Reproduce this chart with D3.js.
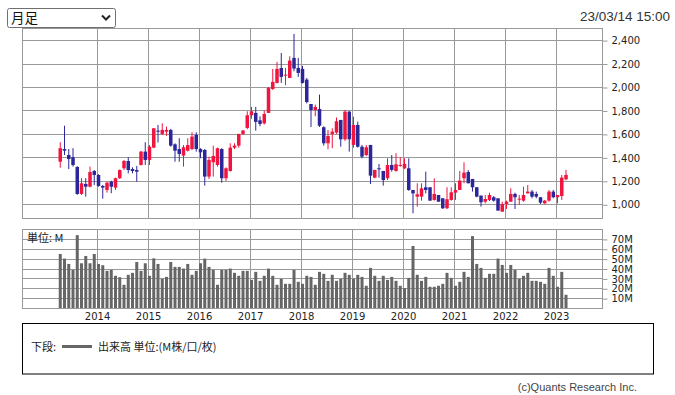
<!DOCTYPE html>
<html>
<head>
<meta charset="utf-8">
<script src="https://cdnjs.cloudflare.com/ajax/libs/d3/7.8.5/d3.min.js"></script>
<style>
body { margin: 0; background: #fff; }
svg { display: block; }
.axis path.domain { display: none; }
.axis line { stroke: #999; }
.axis text { font-family: "DejaVu Sans", sans-serif; font-size: 10px; fill: #222; }
.jp { font-family: "Noto Sans CJK JP", sans-serif; }
</style>
</head>
<body>
<svg width="675" height="395"></svg>
<script>
// monthly bars, 2013-04 .. 2023-03
var openVals = [1363,1471,1420,1401,1318,1088,1173,1150,1284,1250,1156,1122,1193,1142,1222,1307,1369,1301,1292,1335,
    1449,1378,1483,1628,1600,1619,1634,1511,1471,1415,1457,1471,1591,1471,1463,1236,1358,1335,1471,1222,
    1284,1483,1500,1600,1651,1759,1779,1716,1690,1779,1983,2035,2162,2100,2077,2248,2162,2154,2063,1855,
    1804,1813,1657,1520,1600,1611,1719,1554,1790,1506,1676,1491,1420,1506,1227,1307,1284,1222,1335,1284,
    1327,1307,1307,1122,1065,1065,1145,1145,1037,1079,1051,966,1037,1099,1122,1222,1275,1216,1145,1074,
    1022,1037,1060,1051,937,1003,1022,1088,1045,1031,1093,1108,1088,1060,1008,1031,1108,1060,1071,1213];
var highVals = [1529,1670,1471,1478,1325,1222,1222,1321,1292,1256,1165,1193,1201,1227,1298,1378,1401,1315,1327,1455,
    1529,1505,1648,1676,1690,1662,1643,1520,1563,1505,1563,1614,1614,1478,1471,1406,1500,1483,1478,1315,
    1520,1520,1600,1634,1793,1830,1830,1750,1800,2000,2154,2214,2290,2162,2262,2452,2248,2180,2077,1855,
    1850,1935,1665,1634,1648,1740,1719,1805,1795,1747,1705,1506,1506,1506,1293,1344,1284,1392,1420,1435,
    1400,1392,1392,1122,1179,1179,1278,1145,1221,1079,1051,1145,1145,1179,1284,1358,1293,1216,1145,1074,
    1079,1099,1071,1051,1022,1031,1136,1099,1079,1150,1164,1122,1108,1060,1037,1122,1122,1079,1250,1293];
var lowVals = [1312,1420,1300,1321,1080,1080,1065,1145,1165,1150,1048,1099,1094,1122,1216,1292,1264,1264,1193,1330,
    1335,1335,1478,1526,1591,1583,1491,1363,1363,1321,1449,1463,1449,1392,1159,1216,1236,1321,1184,1199,
    1278,1471,1483,1591,1640,1730,1628,1665,1680,1779,1975,2030,2035,2015,2077,2134,2086,2030,1860,1659,
    1750,1659,1500,1469,1478,1600,1491,1540,1449,1483,1483,1392,1410,1173,1222,1227,1159,1207,1278,1278,
    1320,1300,1115,923,980,1031,1093,1031,1031,1022,960,960,1031,1037,1122,1179,1179,1108,1060,980,
    1008,1028,1022,946,937,960,1022,960,994,1022,1093,1051,1051,1003,1003,1022,1051,1008,1037,1205];
var closeVals = [1478,1457,1386,1335,1088,1179,1150,1275,1250,1156,1142,1184,1150,1222,1292,1369,1292,1284,1278,1449,
    1378,1491,1648,1619,1634,1634,1500,1457,1429,1486,1505,1577,1471,1443,1236,1378,1412,1478,1222,1307,
    1483,1500,1600,1628,1759,1793,1702,1685,1770,1992,2043,2154,2086,2105,2225,2157,2120,2035,1872,1804,
    1830,1670,1520,1582,1619,1708,1554,1790,1554,1676,1491,1406,1486,1244,1293,1298,1207,1335,1293,1341,
    1335,1344,1122,1093,1085,1136,1122,1031,1088,1022,966,1043,1102,1122,1202,1270,1179,1145,1065,1017,
    1045,1079,1031,946,1003,1022,1088,1060,1048,1079,1108,1065,1065,1014,1031,1108,1060,1079,1227,1250];
// 出来高 (M)
var volumeVals = [54.7,50,44.6,38.6,73.8,45.3,52.7,45.3,54.7,44.6,43.3,37.6,38.6,32.6,31.2,23.5,33.6,35.6,46.6,37.6,
    45.3,32.6,50.3,44.6,29.5,31.5,46.6,41.6,41.6,39.9,44.6,33.6,37.6,45.3,50,41.6,38.6,23.5,38.6,38.6,
    39.9,35.6,32.6,37.6,37.6,28.5,36.6,27.5,32.6,39.9,32.6,23.5,29.5,24.5,24.5,38.6,26.5,24.5,32.6,31.5,
    23.5,36.6,34.6,27.5,33.6,27.5,29.5,35.6,33.6,29.5,33.6,31.5,22.5,40.6,32.6,27.5,32.6,28.5,31.5,27.5,
    22.5,20.1,30.5,62.8,33.6,27.5,31.5,21.5,21.5,22.5,24.5,35.6,30.5,22.5,26.5,36.6,31.5,72.8,44.6,40.6,
    30.5,34.6,34.6,50,43.6,35.6,43.6,38.6,29.5,32.6,35.6,27.5,27.5,26.5,24.5,40.6,32.6,21.5,36.6,13.4];
var yearLabels = ["2014","2015","2016","2017","2018","2019","2020","2021","2022","2023"];
var priceTicks = [1000,1200,1400,1600,1800,2000,2200,2400];
var volumeTicks = [10,20,30,40,50,60,70];

var months = d3.timeMonth.range(new Date(2013, 3, 1), new Date(2023, 3, 1));
var candles = months.map(function(m, i) {
    return {i: i, date: m, open: openVals[i], high: highVals[i], low: lowVals[i], close: closeVals[i], vol: volumeVals[i]};
});
var januaries = candles.filter(function(d) { return d.date.getMonth() === 0; }).map(function(d) { return d.i; });

var svg = d3.select("svg");
var left = 22, right = 602,
    priceTop = 28, priceBottom = 218,
    volTop = 229, volBottom = 308;

var x = d3.scaleLinear().domain([-8.65, 127.82]).range([left, right]);
var y = d3.scaleLinear().domain([883, 2503]).range([priceBottom, priceTop]);
var yVol = d3.scaleLinear().domain([0, 80]).range([volBottom, volTop]);

var upColor = "#f0143e", downColor = "#2b279a", gridColor = "#999";

// select box
var sel = svg.append("g");
sel.append("rect").attr("x", 7.5).attr("y", 8.5).attr("width", 108).attr("height", 19).attr("rx", 2)
    .attr("fill", "#fff").attr("stroke", "#6f6f6f");
sel.append("text").attr("class", "jp").attr("x", 11).attr("y", 23).style("font-size", "13.5px").attr("fill", "#111").text("月足");
sel.append("path").attr("d", "M102,15.5L106,19.5L110,15.5").attr("fill", "none").attr("stroke", "#222").attr("stroke-width", 2);

svg.append("text").attr("x", 670).attr("y", 20.5).attr("text-anchor", "end")
    .style("font-family", "'Liberation Sans', Arial, sans-serif").style("font-size", "13.5px").attr("fill", "#333")
    .text("23/03/14 15:00");

// grids
function drawGrid(top, bottom, scale, ticks) {
    var g = svg.append("g").attr("stroke", gridColor).attr("fill", "none");
    g.selectAll(".h").data(ticks).enter().append("line")
        .attr("x1", left).attr("x2", right)
        .attr("y1", function(d) { return Math.round(scale(d)) + 0.5; })
        .attr("y2", function(d) { return Math.round(scale(d)) + 0.5; });
    g.selectAll(".v").data(januaries).enter().append("line")
        .attr("x1", function(d) { return Math.round(x(d)) + 0.5; })
        .attr("x2", function(d) { return Math.round(x(d)) + 0.5; })
        .attr("y1", top).attr("y2", bottom);
    g.append("rect").attr("x", left + 0.5).attr("y", top + 0.5)
        .attr("width", right - left).attr("height", bottom - top);
}
drawGrid(priceTop, priceBottom, y, priceTicks);
drawGrid(volTop, volBottom, yVol, volumeTicks);

// price axis
svg.append("g").attr("class", "axis").attr("transform", "translate(" + (right + 0.5) + ",0.5)")
    .call(d3.axisRight(y).tickValues(priceTicks).tickSize(5).tickPadding(4).tickFormat(d3.format(",")));
svg.append("g").attr("class", "axis").attr("transform", "translate(" + (right + 0.5) + ",0.5)")
    .call(d3.axisRight(yVol).tickValues(volumeTicks).tickSize(5).tickPadding(4).tickFormat(function(d) { return d + "M"; }));
svg.append("g").attr("class", "axis").attr("transform", "translate(0," + volBottom + ")")
    .call(d3.axisBottom(x).tickValues(januaries).tickSize(0).tickPadding(4.5)
        .tickFormat(function(d, i) { return yearLabels[i]; }));

// candles
var cg = svg.append("g");
cg.selectAll(".wick").data(candles).enter().append("line")
    .attr("x1", function(d) { return x(d.i) + 1.5; })
    .attr("x2", function(d) { return x(d.i) + 1.5; })
    .attr("y1", function(d) { return y(d.high); })
    .attr("y2", function(d) { return y(d.low); })
    .attr("stroke", function(d) { return d.close >= d.open ? upColor : downColor; })
    .attr("stroke-width", 1);
cg.selectAll(".body").data(candles).enter().append("rect")
    .attr("x", function(d) { return x(d.i) - 0.25; })
    .attr("width", 3.5)
    .attr("y", function(d) { return y(Math.max(d.open, d.close)); })
    .attr("height", function(d) { return Math.max(1, Math.abs(y(d.open) - y(d.close))); })
    .attr("fill", function(d) { return d.close >= d.open ? upColor : downColor; });

// volume
svg.append("g").selectAll("rect").data(candles).enter().append("rect")
    .attr("x", function(d) { return x(d.i); })
    .attr("width", 3)
    .attr("y", function(d) { return yVol(d.vol); })
    .attr("height", function(d) { return yVol(0) - yVol(d.vol); })
    .attr("fill", "#666");

svg.append("text").attr("class", "jp").attr("x", 27).attr("y", 241.5).style("font-size", "11px").attr("fill", "#222").text("単位: M");

// legend
svg.append("rect").attr("x", 22.5).attr("y", 323.5).attr("width", 631).attr("height", 50.5)
    .attr("fill", "none").attr("stroke", "#000");
svg.append("text").attr("class", "jp").attr("x", 31).attr("y", 350.5).style("font-size", "11px").attr("fill", "#222").text("下段:");
svg.append("line").attr("x1", 62).attr("x2", 92).attr("y1", 346.5).attr("y2", 346.5).attr("stroke", "#666").attr("stroke-width", 3);
svg.append("text").attr("class", "jp").attr("x", 98).attr("y", 350.5).style("font-size", "11px").attr("fill", "#222").text("出来高 単位:(M株/口/枚)");

svg.append("text").attr("x", 637).attr("y", 391).attr("text-anchor", "end")
    .style("font-family", "'Liberation Sans', Arial, sans-serif").style("font-size", "11px").attr("fill", "#444")
    .text("(c)Quants Research Inc.");
</script>
</body>
</html>
